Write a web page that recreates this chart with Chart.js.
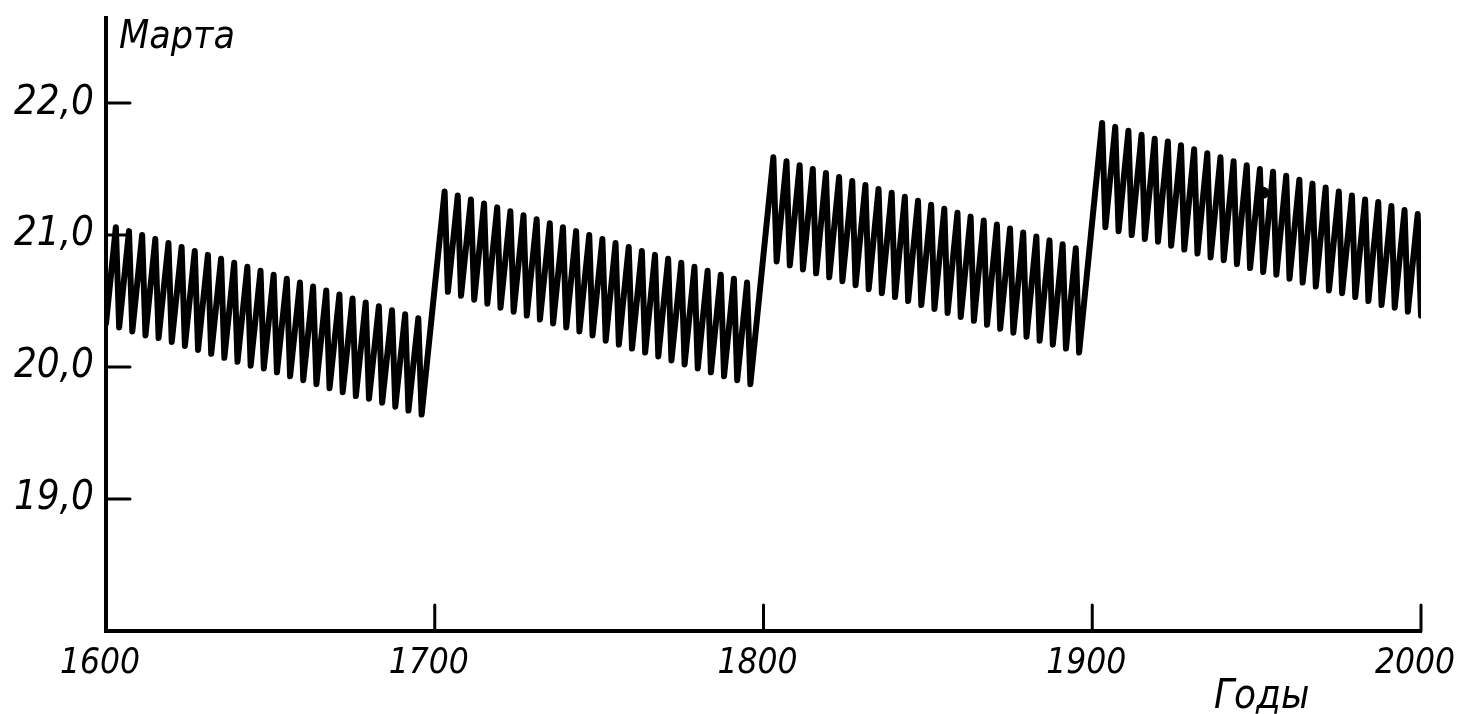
<!DOCTYPE html>
<html><head><meta charset="utf-8">
<script src="https://cdn.jsdelivr.net/npm/chart.js@4.4.1/dist/chart.umd.min.js"></script>
<style>html,body{margin:0;padding:0;background:#fff;}#wrap{width:1461px;height:714px;position:relative;}</style>
</head><body><div id="wrap"><canvas id="c" width="1461" height="714"></canvas></div>
<script>
// ---- data ----
const peakYears = [
  1603,1607,1611,1615,1619,1623,1627,1631,1635,1639,1643,1647,1651,1655,1659,1663,1667,1671,1675,1679,1683,1687,1691,1695,
  1703,1707,1711,1715,1719,1723,1727,1731,1735,1739,1743,1747,1751,1755,1759,1763,1767,1771,1775,1779,1783,1787,1791,1795,
  1803,1807,1811,1815,1819,1823,1827,1831,1835,1839,1843,1847,1851,1855,1859,1863,1867,1871,1875,1879,1883,1887,1891,1895,
  1903,1907,1911,1915,1919,1923,1927,1931,1935,1939,1943,1947,1951,1955,1959,1963,1967,1971,1975,1979,1983,1987,1991,1995,1999
];
const peakValues = [
  21.06,21.03,21.00,20.97,20.94,20.91,20.88,20.85,20.82,20.79,20.76,20.73,20.70,20.67,20.64,20.61,20.58,20.55,20.52,20.49,20.46,20.43,20.40,20.37,
  21.33,21.30,21.27,21.24,21.21,21.18,21.15,21.12,21.09,21.06,21.03,21.00,20.97,20.94,20.91,20.88,20.85,20.82,20.79,20.76,20.73,20.70,20.67,20.64,
  21.59,21.56,21.53,21.50,21.47,21.44,21.41,21.38,21.35,21.32,21.29,21.26,21.23,21.20,21.17,21.14,21.11,21.08,21.05,21.02,20.99,20.96,20.93,20.90,
  21.85,21.82,21.79,21.76,21.73,21.71,21.68,21.65,21.62,21.59,21.56,21.53,21.50,21.48,21.45,21.42,21.39,21.36,21.33,21.30,21.27,21.25,21.22,21.19,21.16
];
const troughYears = [
  1600,1604,1608,1612,1616,1620,1624,1628,1632,1636,1640,1644,1648,1652,1656,1660,1664,1668,1672,1676,1680,1684,1688,1692,1696,
  1704,1708,1712,1716,1720,1724,1728,1732,1736,1740,1744,1748,1752,1756,1760,1764,1768,1772,1776,1780,1784,1788,1792,1796,
  1804,1808,1812,1816,1820,1824,1828,1832,1836,1840,1844,1848,1852,1856,1860,1864,1868,1872,1876,1880,1884,1888,1892,1896,
  1904,1908,1912,1916,1920,1924,1928,1932,1936,1940,1944,1948,1952,1956,1960,1964,1968,1972,1976,1980,1984,1988,1992,1996,2000
];
const troughValues = [
  20.33,20.30,20.27,20.24,20.22,20.19,20.16,20.13,20.10,20.07,20.04,20.01,19.99,19.96,19.93,19.90,19.87,19.84,19.81,19.78,19.76,19.73,19.70,19.67,19.64,
  20.57,20.54,20.51,20.48,20.45,20.42,20.39,20.36,20.33,20.30,20.27,20.24,20.20,20.17,20.14,20.11,20.08,20.05,20.02,19.99,19.96,19.93,19.90,19.87,
  20.80,20.77,20.74,20.71,20.68,20.65,20.62,20.59,20.56,20.53,20.50,20.47,20.44,20.41,20.38,20.35,20.32,20.29,20.26,20.23,20.20,20.17,20.14,20.11,
  21.06,21.03,21.00,20.97,20.95,20.92,20.89,20.86,20.83,20.81,20.78,20.75,20.72,20.70,20.67,20.64,20.61,20.58,20.56,20.53,20.50,20.47,20.45,20.42,20.39
];
const markerYears = [1952];
const markerValues = [21.32];
const xTickValues = [1600,1700,1800,1900,2000];
const yTickValues = [19,20,21,22];
const yAxisTitle = 'Марта';
const xAxisTitle = 'Годы';

// ---- build the library's table from the arrays ----
const zigzag = peakYears.map((x,i)=>({x, y: peakValues[i]}))
  .concat(troughYears.map((x,i)=>({x, y: troughValues[i]})))
  .sort((a,b)=>a.x-b.x);
const marker = markerYears.map((x,i)=>({x, y: markerValues[i]}));

const FONT = "'Liberation Sans Narrow','DejaVu Sans Condensed','Liberation Sans',sans-serif";

const inwardTicks = {
  id: 'inwardTicks',
  afterDraw(chart) {
    const {ctx, scales:{x: xs, y: ys}} = chart;
    ctx.save();
    ctx.strokeStyle = '#000';
    ctx.lineWidth = 3;
    ctx.lineCap = 'round';
    yTickValues.forEach(v => {
      const py = ys.getPixelForValue(v);
      ctx.beginPath(); ctx.moveTo(ys.right, py); ctx.lineTo(ys.right + 24, py); ctx.stroke();
    });
    xTickValues.slice(1).forEach(v => {
      const px = xs.getPixelForValue(v);
      ctx.beginPath(); ctx.moveTo(px, xs.top); ctx.lineTo(px, xs.top - 26); ctx.stroke();
    });
    ctx.fillStyle = '#000';
    ctx.textBaseline = 'alphabetic';
    ctx.textAlign = 'left';
    ctx.font = 'italic 39px ' + FONT;
    ctx.fillText(yAxisTitle, ys.right + 13, 48);
    ctx.font = 'italic 40px ' + FONT;
    ctx.fillText(xAxisTitle, 1214, 708);
    ctx.restore();
  }
};

new Chart(document.getElementById('c'), {
  type: 'line',
  data: { datasets: [
    { data: zigzag, borderColor: '#000', borderWidth: 6, pointRadius: 0, tension: 0,
      borderJoinStyle: 'round', borderCapStyle: 'round', fill: false },
    { data: marker, showLine: false, pointRadius: 6, pointBackgroundColor: '#000', pointBorderWidth: 0 }
  ]},
  options: {
    responsive: false, animation: false, devicePixelRatio: 1,
    layout: { padding: { top: 18, right: 40, left: 0, bottom: 0 } },
    plugins: { legend: { display: false }, tooltip: { enabled: false } },
    scales: {
      x: {
        type: 'linear', min: 1600, max: 2000,
        afterBuildTicks: s => { s.ticks = xTickValues.map(v => ({ value: v })); },
        afterFit: s => { s.height = 83; s.paddingLeft = 0; s.paddingRight = 0; },
        grid: { display: false },
        border: { display: true, color: '#000', width: 4 },
        ticks: { color: '#000', padding: 4, labelOffset: -6, maxRotation: 0, autoSkip: false,
          font: { family: FONT, size: 35, style: 'italic' },
          callback: v => String(v) }
      },
      y: {
        type: 'linear', min: 18, max: 22.645,
        afterBuildTicks: s => { s.ticks = yTickValues.map(v => ({ value: v })); },
        afterFit: s => { s.width = 106; s.paddingTop = 0; s.paddingBottom = 0; },
        grid: { display: false },
        border: { display: true, color: '#000', width: 4 },
        ticks: { color: '#000', padding: 4,
          font: { family: FONT, size: 40, style: 'italic' },
          callback: v => Number(v).toFixed(1).replace('.', ',') }
      }
    }
  },
  plugins: [inwardTicks]
});
</script></body></html>
